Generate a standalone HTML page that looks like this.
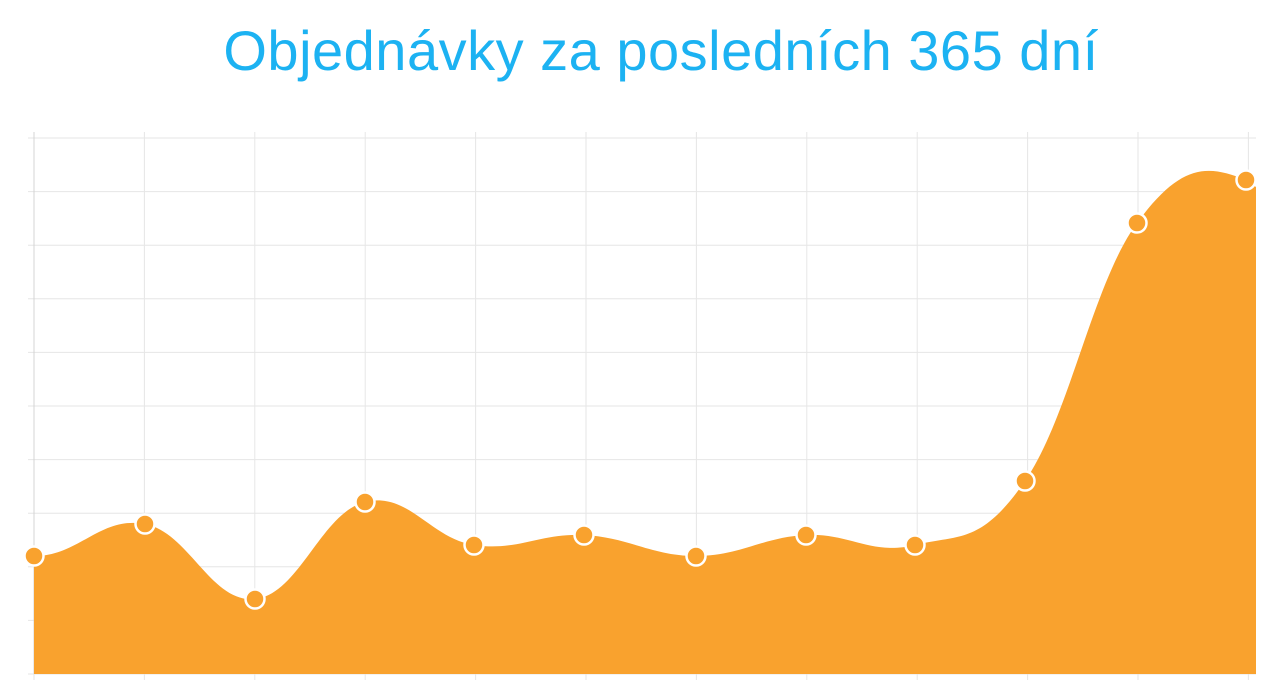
<!DOCTYPE html>
<html><head><meta charset="utf-8"><style>
html,body{margin:0;padding:0;background:#fff;width:1280px;height:693px;overflow:hidden}
h1{position:absolute;left:0;width:1322px;top:18px;margin:0;text-align:center;font:400 56px "Liberation Sans",sans-serif;color:#1cb2f2;letter-spacing:0.5px}
svg{position:absolute;left:0;top:0}
</style></head><body>
<h1>Objednávky za posledních 365 dní</h1>
<svg id="s" width="1280" height="693"></svg>
<script>
const s=document.getElementById('s');let h='';
for(let i=0;i<=10;i++){const y=138+i*53.6;h+=`<line x1="28" x2="1256" y1="${y}" y2="${y}" stroke="#e6e6e6" stroke-width="1"/>`;}
for(let i=0;i<12;i++){const x=34+i*110.4;h+=`<line x1="${x}" x2="${x}" y1="132" y2="680" stroke="#e6e6e6" stroke-width="1"/>`;}
h+=`<line x1="34" x2="34" y1="132" y2="674" stroke="#d4d4d4"/>`;
const p=[[34,556],[145,524],[255,599],[365,502],[474,545],[584,535],[696,556],[806,535],[915,545],[1025,481],[1137,223],[1246,180]];
const pts=[[-76,520]].concat(p).concat([[1330,300]]);
let d=`M34,674 L${p[0][0]},${p[0][1]}`;
const t=0.6;
for(let i=1;i<pts.length-2;i++){const a=pts[i-1],b=pts[i],c=pts[i+1],e=pts[i+2];
const c1=[b[0]+(c[0]-a[0])*t/3,b[1]+(c[1]-a[1])*t/3],c2=[c[0]-(e[0]-b[0])*t/3,c[1]-(e[1]-b[1])*t/3];
d+=` C${c1[0]},${c1[1]} ${c2[0]},${c2[1]} ${c[0]},${c[1]}`;}
d+=` L1256,187 L1256,674 Z`;
h+=`<path d="${d}" fill="#f9a22e"/>`;
for(const q of p)h+=`<circle cx="${q[0]}" cy="${q[1]}" r="9.5" fill="#f9a22e" stroke="#fff" stroke-width="2.5"/>`;
s.innerHTML=h;
</script>
</body></html>
